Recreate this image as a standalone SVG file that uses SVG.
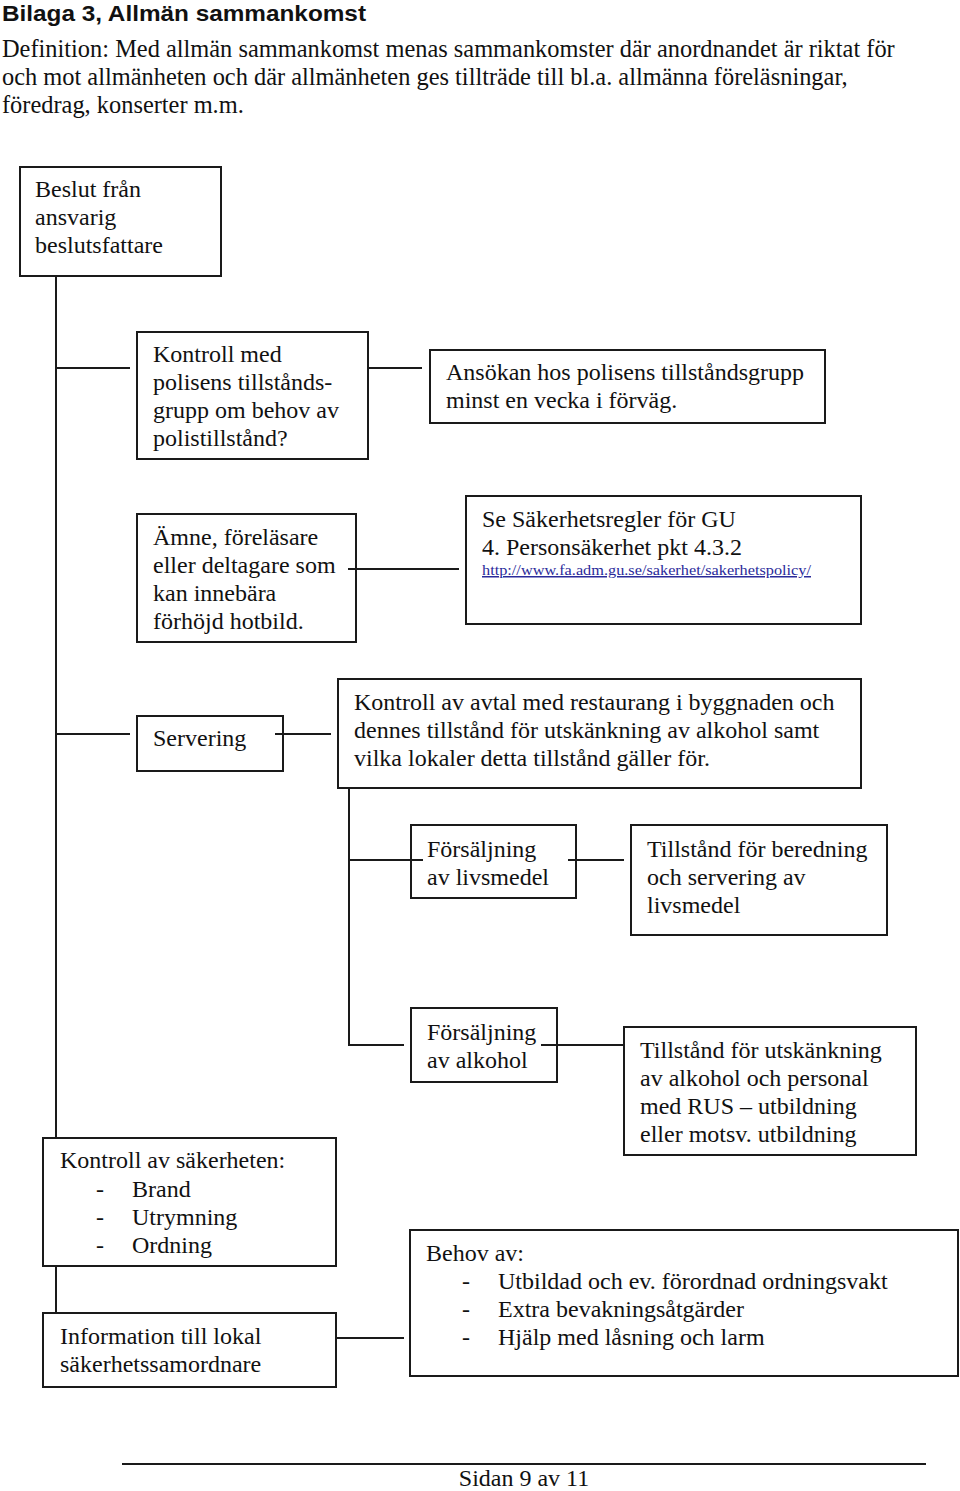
<svg xmlns="http://www.w3.org/2000/svg" width="960" height="1491" viewBox="0 0 960 1491">
<style>
.bg{fill:#fff}
.box{fill:#fff;stroke:#1a1a1a;stroke-width:2}
.ln{stroke:#1a1a1a;stroke-width:2;fill:none}
.t{font-family:"Liberation Serif","Times New Roman",serif;font-size:24px;fill:#111}
.d{font-family:"Liberation Serif","Times New Roman",serif;font-size:24.4px;fill:#111}
.h{font-family:"Liberation Sans",Arial,sans-serif;font-size:22.5px;font-weight:bold;fill:#111}
.lk{font-family:"Liberation Serif","Times New Roman",serif;font-size:15px;fill:#2a2a9a;text-decoration:underline}
</style>
<rect class="bg" x="0" y="0" width="960" height="1491"/>
<g id="header">
<text class="h" x="2" y="21" textLength="364" lengthAdjust="spacingAndGlyphs">Bilaga 3, Allmän sammankomst</text>
<text class="d" x="2" y="57">Definition: Med allmän sammankomst menas sammankomster där anordnandet är riktat för</text>
<text class="d" x="2" y="85">och mot allmänheten och där allmänheten ges tillträde till bl.a. allmänna föreläsningar,</text>
<text class="d" x="2" y="113">föredrag, konserter m.m.</text>
</g>
<g id="beslut">
<rect class="box" x="20" y="167" width="201" height="109"/>
<text class="t" x="35" y="197">Beslut från</text>
<text class="t" x="35" y="225">ansvarig</text>
<text class="t" x="35" y="253">beslutsfattare</text>
</g>
<g id="kontroll-polis">
<rect class="box" x="137" y="332" width="231" height="127"/>
<text class="t" x="153" y="362">Kontroll med</text>
<text class="t" x="153" y="390">polisens tillstånds-</text>
<text class="t" x="153" y="418">grupp om behov av</text>
<text class="t" x="153" y="446">polistillstånd?</text>
</g>
<g id="ansokan">
<rect class="box" x="430" y="350" width="395" height="73"/>
<text class="t" x="446" y="380">Ansökan hos polisens tillståndsgrupp</text>
<text class="t" x="446" y="408">minst en vecka i förväg.</text>
</g>
<g id="amne">
<rect class="box" x="137" y="514" width="219" height="128"/>
<text class="t" x="153" y="545">Ämne, föreläsare</text>
<text class="t" x="153" y="573">eller deltagare som</text>
<text class="t" x="153" y="601">kan innebära</text>
<text class="t" x="153" y="629">förhöjd hotbild.</text>
</g>
<g id="sakerhetsregler">
<rect class="box" x="466" y="496" width="395" height="128"/>
<text class="t" x="482" y="527">Se Säkerhetsregler för GU</text>
<text class="t" x="482" y="555">4. Personsäkerhet pkt 4.3.2</text>
<text class="lk" x="482" y="575" textLength="329" lengthAdjust="spacingAndGlyphs">http://www.fa.adm.gu.se/sakerhet/sakerhetspolicy/</text>
</g>
<g id="servering">
<rect class="box" x="137" y="716" width="146" height="55"/>
<text class="t" x="153" y="746">Servering</text>
</g>
<g id="kontroll-avtal">
<rect class="box" x="338" y="679" width="523" height="109"/>
<text class="t" x="354" y="710">Kontroll av avtal med restaurang i byggnaden och</text>
<text class="t" x="354" y="738">dennes tillstånd för utskänkning av alkohol samt</text>
<text class="t" x="354" y="766">vilka lokaler detta tillstånd gäller för.</text>
</g>
<g id="forsaljning-livsmedel">
<rect class="box" x="411" y="825" width="165" height="73"/>
<text class="t" x="427" y="857">Försäljning</text>
<text class="t" x="427" y="885">av livsmedel</text>
</g>
<g id="tillstand-beredning">
<rect class="box" x="631" y="825" width="256" height="110"/>
<text class="t" x="647" y="857">Tillstånd för beredning</text>
<text class="t" x="647" y="885">och servering av</text>
<text class="t" x="647" y="913">livsmedel</text>
</g>
<g id="forsaljning-alkohol">
<rect class="box" x="411" y="1008" width="146" height="74"/>
<text class="t" x="427" y="1040">Försäljning</text>
<text class="t" x="427" y="1068">av alkohol</text>
</g>
<g id="tillstand-utskankning">
<rect class="box" x="624" y="1027" width="292" height="128"/>
<text class="t" x="640" y="1058">Tillstånd för utskänkning</text>
<text class="t" x="640" y="1086">av alkohol och personal</text>
<text class="t" x="640" y="1114">med RUS – utbildning</text>
<text class="t" x="640" y="1142">eller motsv. utbildning</text>
</g>
<g id="kontroll-sakerhet">
<rect class="box" x="43" y="1138" width="293" height="128"/>
<text class="t" x="60" y="1168">Kontroll av säkerheten:</text>
<text class="t" x="96" y="1197">-</text><text class="t" x="132" y="1197">Brand</text>
<text class="t" x="96" y="1225">-</text><text class="t" x="132" y="1225">Utrymning</text>
<text class="t" x="96" y="1253">-</text><text class="t" x="132" y="1253">Ordning</text>
</g>
<g id="information">
<rect class="box" x="43" y="1313" width="293" height="74"/>
<text class="t" x="60" y="1344">Information till lokal</text>
<text class="t" x="60" y="1372">säkerhetssamordnare</text>
</g>
<g id="behov">
<rect class="box" x="410" y="1230" width="548" height="146"/>
<text class="t" x="426" y="1261">Behov av:</text>
<text class="t" x="462" y="1289">-</text><text class="t" x="498" y="1289">Utbildad och ev. förordnad ordningsvakt</text>
<text class="t" x="462" y="1317">-</text><text class="t" x="498" y="1317">Extra bevakningsåtgärder</text>
<text class="t" x="462" y="1345">-</text><text class="t" x="498" y="1345">Hjälp med låsning och larm</text>
</g>
<g id="connectors">
<line class="ln" x1="56" y1="277" x2="56" y2="1138"/>
<line class="ln" x1="56" y1="1266" x2="56" y2="1313"/>
<line class="ln" x1="56" y1="368" x2="130" y2="368"/>
<line class="ln" x1="368" y1="368" x2="422" y2="368"/>
<line class="ln" x1="348" y1="569" x2="459" y2="569"/>
<line class="ln" x1="56" y1="734" x2="130" y2="734"/>
<line class="ln" x1="275" y1="734" x2="331" y2="734"/>
<polyline class="ln" points="349,788 349,1045 404,1045"/>
<line class="ln" x1="349" y1="860" x2="423" y2="860"/>
<line class="ln" x1="568" y1="860" x2="624" y2="860"/>
<line class="ln" x1="541" y1="1045" x2="624" y2="1045"/>
<line class="ln" x1="336" y1="1338" x2="404" y2="1338"/>
</g>
<g id="footer">
<line class="ln" x1="122" y1="1464" x2="926" y2="1464"/>
<text class="t" x="524" y="1486" text-anchor="middle">Sidan 9 av 11</text>
</g>
</svg>
